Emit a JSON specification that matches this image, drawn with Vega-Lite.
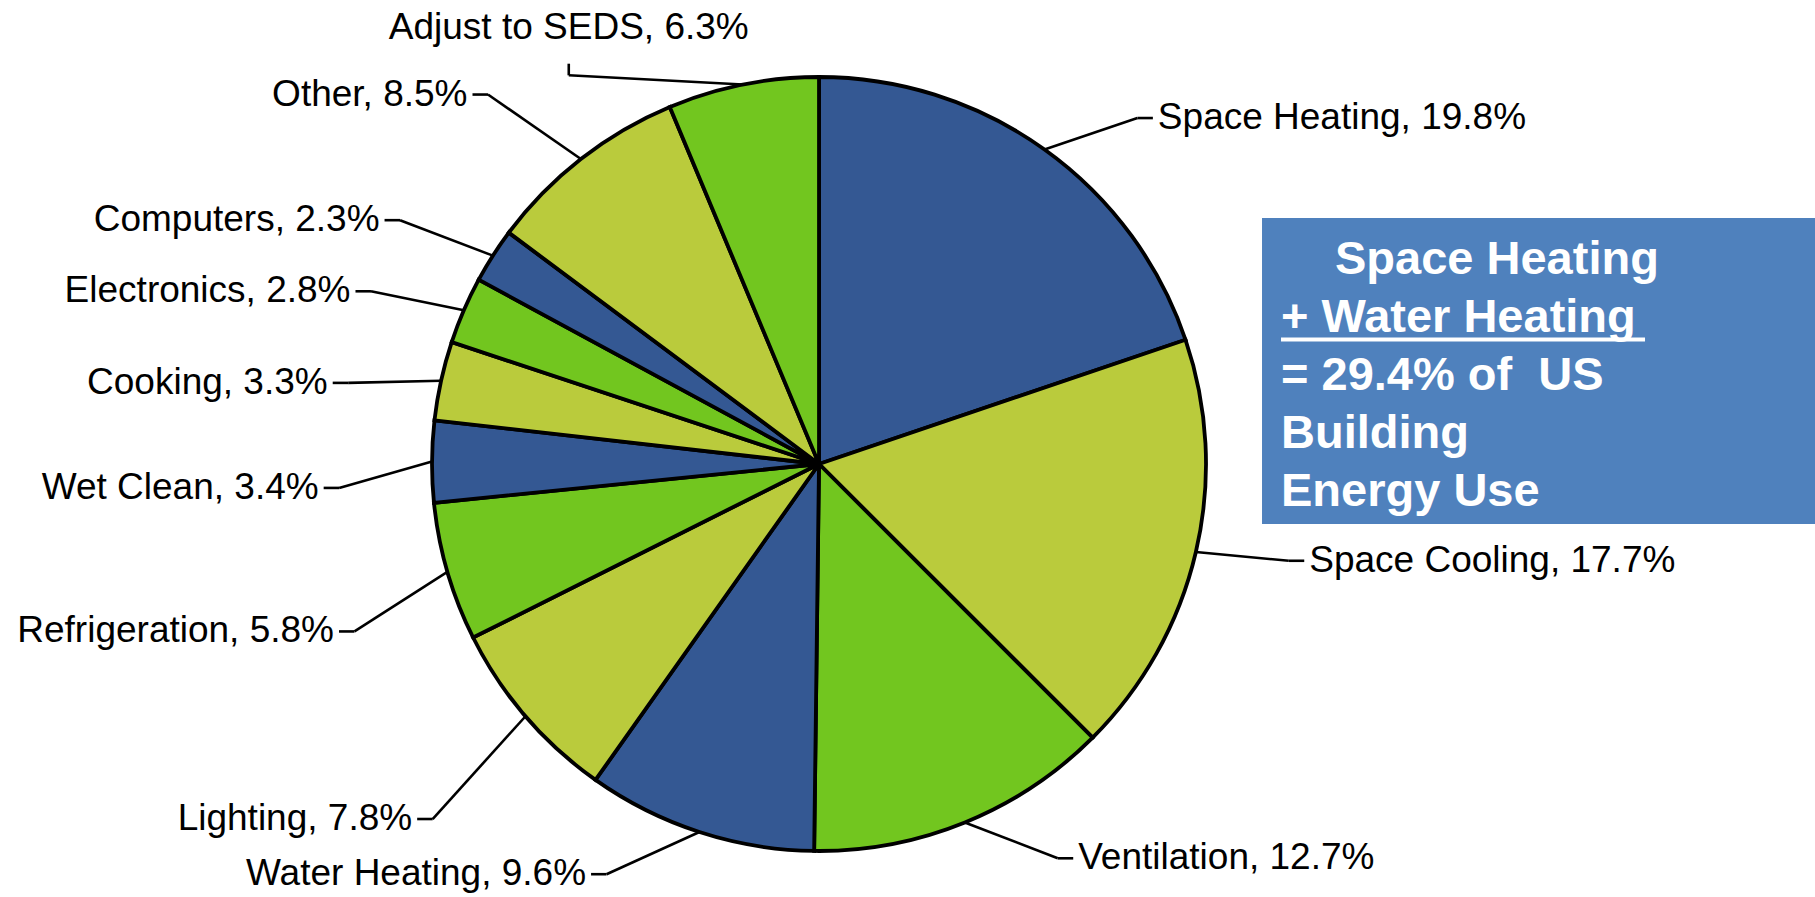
{
  "$schema": "https://vega.github.io/schema/vega-lite/v6.json",
  "width": 1815,
  "height": 897,
  "padding": 0,
  "autosize": {"type": "none"},
  "background": "white",
  "config": {"view": {"stroke": null}},
  "layer": [
    {
      "data": {
        "values": [
          {"category": "Space Heating", "share": 19.8, "order": 1},
          {"category": "Space Cooling", "share": 17.7, "order": 2},
          {"category": "Ventilation", "share": 12.7, "order": 3},
          {"category": "Water Heating", "share": 9.6, "order": 4},
          {"category": "Lighting", "share": 7.8, "order": 5},
          {"category": "Refrigeration", "share": 5.8, "order": 6},
          {"category": "Wet Clean", "share": 3.4, "order": 7},
          {"category": "Cooking", "share": 3.3, "order": 8},
          {"category": "Electronics", "share": 2.8, "order": 9},
          {"category": "Computers", "share": 2.3, "order": 10},
          {"category": "Other", "share": 8.5, "order": 11},
          {"category": "Adjust to SEDS", "share": 6.3, "order": 12}
        ]
      },
      "transform": [
        {"window": [{"op": "sum", "field": "share", "as": "cum"}], "sort": [{"field": "order"}], "frame": [null, 0]},
        {"calculate": "(datum.cum - datum.share / 2) / 100 * 2 * PI", "as": "mid"},
        {"calculate": "sin(datum.mid)", "as": "s"},
        {"calculate": "cos(datum.mid)", "as": "c"},
        {"calculate": "datum.s < 0 ? -1 : 1", "as": "sgn"},
        {"calculate": "abs(datum.s) < 0.3 && datum.c > 0", "as": "top"},
        {"calculate": "datum.top ? datum.s + datum.sgn * 0.45 : datum.s + datum.sgn * 0.28", "as": "ax"},
        {"calculate": "datum.top ? 1.055 * datum.c : max(-1.06, min(1.06, datum.sgn < 0 ? 1.3 * datum.c - 0.07 : 1.1 * datum.c))", "as": "ay"},
        {"calculate": "datum.s", "as": "ex"},
        {"calculate": "datum.c", "as": "ey"},
        {"calculate": "datum.top ? datum.ax : datum.ax - datum.sgn * 0.04", "as": "bx"},
        {"calculate": "datum.top ? datum.ay - 0.03 : datum.ay", "as": "by"},
        {"calculate": "datum.category + ', ' + format(datum.share, '.1f') + '%'", "as": "label"}
      ],
      "layer": [
        {
          "mark": {"type": "arc", "outerRadius": 387, "stroke": "#000000", "strokeWidth": 3.8},
          "encoding": {
            "x": {"datum": 0, "type": "quantitative", "scale": {"domain": [-2.1163, 2.5736], "nice": false, "zero": false}, "axis": null},
            "y": {"datum": 0, "type": "quantitative", "scale": {"domain": [-1.1189, 1.199], "nice": false, "zero": false}, "axis": null},
            "theta": {"field": "share", "type": "quantitative", "stack": true},
            "order": {"field": "order", "type": "quantitative"},
            "color": {
              "field": "category",
              "type": "nominal",
              "legend": null,
              "scale": {
                "domain": ["Space Heating", "Space Cooling", "Ventilation", "Water Heating", "Lighting", "Refrigeration", "Wet Clean", "Cooking", "Electronics", "Computers", "Other", "Adjust to SEDS"],
                "range": ["#345893", "#BACB3C", "#72C61F", "#345893", "#BACB3C", "#72C61F", "#345893", "#BACB3C", "#72C61F", "#345893", "#BACB3C", "#72C61F"]
              }
            }
          }
        },
        {
          "mark": {"type": "rule", "stroke": "#000000", "strokeWidth": 2.6},
          "encoding": {
            "x": {"field": "ex", "type": "quantitative"},
            "y": {"field": "ey", "type": "quantitative"},
            "x2": {"field": "bx"},
            "y2": {"field": "by"}
          }
        },
        {
          "mark": {"type": "rule", "stroke": "#000000", "strokeWidth": 2.6},
          "encoding": {
            "x": {"field": "bx", "type": "quantitative"},
            "y": {"field": "by", "type": "quantitative"},
            "x2": {"field": "ax"},
            "y2": {"field": "ay"}
          }
        },
        {
          "transform": [{"filter": "!datum.top && datum.s >= 0"}],
          "mark": {"type": "text", "align": "left", "baseline": "middle", "dx": 5, "font": "Liberation Sans, Arial", "fontSize": 37, "color": "#000000"},
          "encoding": {
            "x": {"field": "ax", "type": "quantitative"},
            "y": {"field": "ay", "type": "quantitative"},
            "text": {"field": "label"}
          }
        },
        {
          "transform": [{"filter": "!datum.top && datum.s < 0"}],
          "mark": {"type": "text", "align": "right", "baseline": "middle", "dx": -5, "font": "Liberation Sans, Arial", "fontSize": 37, "color": "#000000"},
          "encoding": {
            "x": {"field": "ax", "type": "quantitative"},
            "y": {"field": "ay", "type": "quantitative"},
            "text": {"field": "label"}
          }
        },
        {
          "transform": [{"filter": "datum.top"}],
          "mark": {"type": "text", "align": "center", "baseline": "alphabetic", "dy": -25, "font": "Liberation Sans, Arial", "fontSize": 37, "color": "#000000"},
          "encoding": {
            "x": {"field": "ax", "type": "quantitative"},
            "y": {"field": "ay", "type": "quantitative"},
            "text": {"field": "label"}
          }
        }
      ]
    },
    {
      "data": {"values": [{"note": "Space Heating + Water Heating"}]},
      "layer": [
        {
          "mark": {"type": "rect", "color": "#4F81BD"},
          "encoding": {
            "x": {"datum": 1.1447, "type": "quantitative"},
            "x2": {"datum": 2.5736},
            "y": {"datum": 0.6357, "type": "quantitative"},
            "y2": {"datum": -0.155}
          }
        },
        {
          "mark": {"type": "rule", "stroke": "#FFFFFF", "strokeWidth": 4},
          "encoding": {
            "x": {"datum": 1.1938, "type": "quantitative"},
            "x2": {"datum": 2.1344},
            "y": {"datum": 0.3217, "type": "quantitative"}
          }
        },
        {
          "mark": {
            "type": "text",
            "align": "left",
            "baseline": "alphabetic",
            "font": "Liberation Sans, Arial",
            "fontWeight": "bold",
            "fontSize": 47,
            "color": "#FFFFFF",
            "text": "Space Heating"
          },
          "encoding": {
            "x": {"datum": 1.3333, "type": "quantitative"},
            "y": {"datum": 0.491, "type": "quantitative"}
          }
        },
        {
          "mark": {
            "type": "text",
            "align": "left",
            "baseline": "alphabetic",
            "font": "Liberation Sans, Arial",
            "fontWeight": "bold",
            "fontSize": 47,
            "lineHeight": 58,
            "color": "#FFFFFF",
            "text": ["+ Water Heating", "= 29.4% of\u00a0 US", "Building", "Energy Use"]
          },
          "encoding": {
            "x": {"datum": 1.1938, "type": "quantitative"},
            "y": {"datum": 0.3411, "type": "quantitative"}
          }
        }
      ]
    }
  ]
}
